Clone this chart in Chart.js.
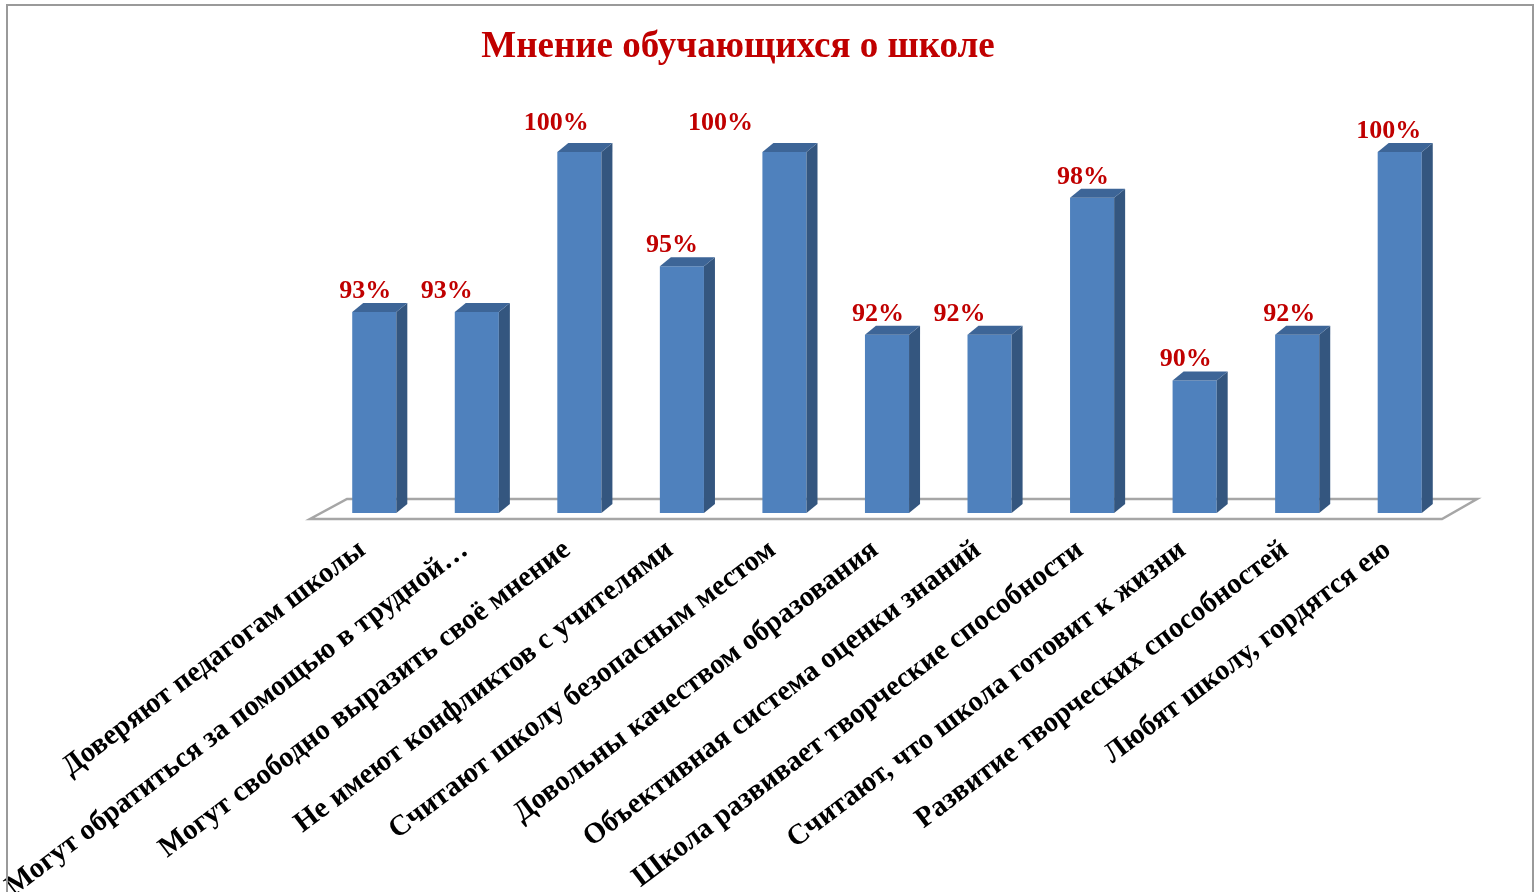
<!DOCTYPE html>
<html>
<head>
<meta charset="utf-8">
<script src="https://cdn.jsdelivr.net/npm/chart.js@4.4.0/dist/chart.umd.min.js"></script>
<style>
html, body { margin: 0; padding: 0; background: #fff; overflow: hidden; }
#wrap { position: relative; width: 1539px; height: 892px; }
#frame { position: absolute; left: 6px; top: 4px; width: 1528px; height: 900px; border: 2px solid #9a9a9a; box-sizing: border-box; pointer-events: none; }
</style>
</head>
<body>
<div id="wrap">
  <canvas id="chart"></canvas>
  <div id="frame"></div>
</div>
<script>
// данные
var chartTitle = 'Мнение обучающихся о школе';
var categories = [
    'Доверяют педагогам школы',
    'Могут обратиться за помощью в трудной…',
    'Могут свободно выразить своё мнение',
    'Не имеют конфликтов с учителями',
    'Считают школу безопасным местом',
    'Довольны качеством образования',
    'Объективная система оценки знаний',
    'Школа развивает творческие способности',
    'Считают, что школа готовит к жизни',
    'Развитие творческих способностей',
    'Любят школу, гордятся ею'
];
var values = [93, 93, 100, 95, 100, 92, 92, 98, 90, 92, 100];
var axisMin = 84.2;
var axisMax = 100;

/* сдвиги подписей значений (как они стоят на картинке) */
var labelShiftX = [-9, -30, -23, -10, -64, -9, -30, -9, -9, -8, -11];
var labelShiftY = [0, 0, -8, 0, -8, 0, 0, 0, 0, 0, 0];

var serif = '"Liberation Serif", "Times New Roman", serif';

/* псевдо 3D: пол, боковые и верхние грани */
var bars3d = {
    id: 'bars3d',
    beforeDatasetsDraw: function(chart) {
        var a = chart.chartArea, c = chart.ctx;
        c.save();
        c.beginPath();
        c.moveTo(a.left - 13, a.bottom + 6);
        c.lineTo(a.right - 9, a.bottom + 6);
        c.lineTo(a.right + 26, a.bottom - 14);
        c.lineTo(a.left + 24, a.bottom - 14);
        c.closePath();
        c.fillStyle = '#ffffff';
        c.fill();
        c.strokeStyle = '#a6a6a6';
        c.lineWidth = 2.5;
        c.stroke();
        c.restore();
    },
    afterDatasetsDraw: function(chart) {
        var c = chart.ctx;
        var dx = 11, dy = -9;
        c.save();
        chart.getDatasetMeta(0).data.forEach(function(bar) {
            var l = bar.x - bar.width / 2, r = bar.x + bar.width / 2;
            // бок
            c.beginPath();
            c.moveTo(r, bar.y);
            c.lineTo(r + dx, bar.y + dy);
            c.lineTo(r + dx, bar.base + dy);
            c.lineTo(r, bar.base);
            c.closePath();
            c.fillStyle = '#34567f';
            c.fill();
            // верх
            c.beginPath();
            c.moveTo(l, bar.y);
            c.lineTo(l + dx, bar.y + dy);
            c.lineTo(r + dx, bar.y + dy);
            c.lineTo(r, bar.y);
            c.closePath();
            c.fillStyle = '#3d6597';
            c.fill();
        });
        c.restore();
    }
};

/* подписи значений */
var valueLabels = {
    id: 'valueLabels',
    afterDatasetsDraw: function(chart) {
        var c = chart.ctx;
        c.save();
        c.font = 'bold 26px ' + serif;
        c.fillStyle = '#c00000';
        c.textAlign = 'center';
        c.textBaseline = 'alphabetic';
        chart.getDatasetMeta(0).data.forEach(function(bar, i) {
            c.fillText(values[i] + '%', bar.x + labelShiftX[i], bar.y - 14 + labelShiftY[i]);
        });
        c.restore();
    }
};

/* заголовок */
var titlePlugin = {
    id: 'titlePlugin',
    afterDraw: function(chart) {
        var c = chart.ctx;
        c.save();
        c.font = 'bold 37px ' + serif;
        c.fillStyle = '#c00000';
        c.textAlign = 'center';
        c.textBaseline = 'middle';
        c.fillText(chartTitle, 738, 47);
        c.restore();
    }
};

var ctx = document.getElementById('chart').getContext('2d');
var chart = new Chart(ctx, {
    type: 'bar',
    data: {
        labels: categories,
        datasets: [{
            data: values,
            base: axisMin,
            backgroundColor: '#4f81bd',
            borderWidth: 0,
            barPercentage: 0.43,
            categoryPercentage: 1,
            clip: false
        }]
    },
    options: {
        responsive: true,
        maintainAspectRatio: false,
        animation: false,
        layout: {
            padding: { left: 323, right: 88, top: 152, bottom: 0 }
        },
        plugins: {
            legend: { display: false },
            tooltip: { enabled: false }
        },
        scales: {
            x: {
                grid: { display: false, drawTicks: false },
                border: { display: false },
                ticks: {
                    autoSkip: false,
                    minRotation: 37,
                    maxRotation: 37,
                    padding: 20,
                    labelOffset: -12,
                    color: '#000',
                    font: { family: serif, size: 29, weight: 'bold' }
                },
                afterFit: function(scale) {
                    scale.height = 379;
                    scale.paddingLeft = 0;
                    scale.paddingRight = 0;
                }
            },
            y: {
                display: false,
                min: axisMin,
                max: axisMax
            }
        }
    },
    plugins: [bars3d, valueLabels, titlePlugin]
});
</script>
</body>
</html>
